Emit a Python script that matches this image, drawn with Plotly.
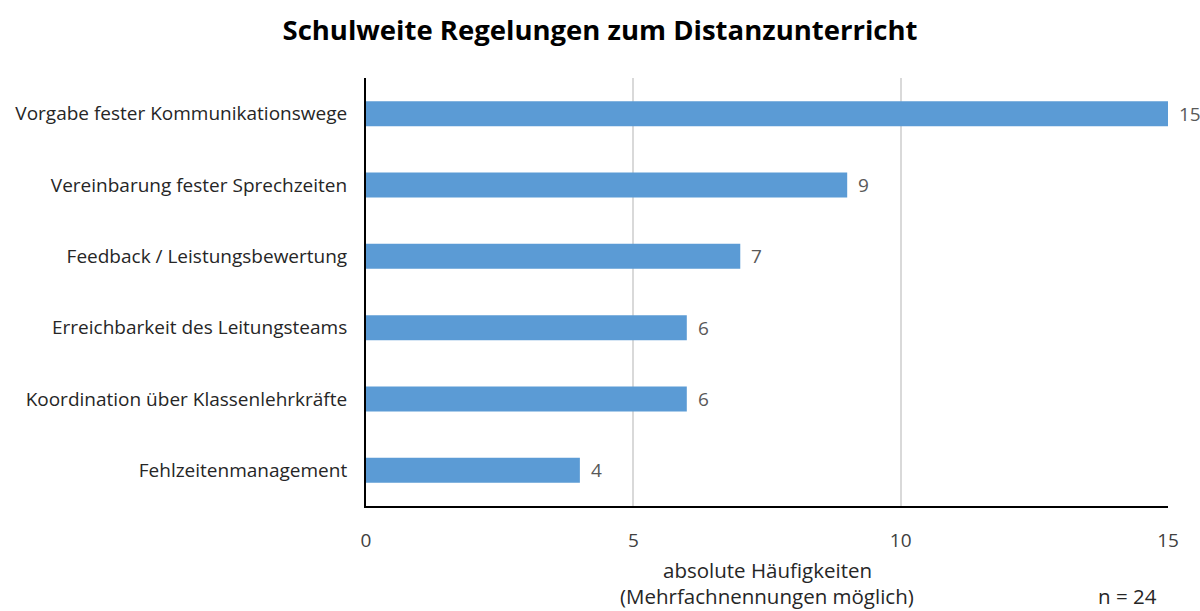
import plotly.graph_objects as go

categories = [
    "Vorgabe fester Kommunikationswege",
    "Vereinbarung fester Sprechzeiten",
    "Feedback / Leistungsbewertung",
    "Erreichbarkeit des Leitungsteams",
    "Koordination über Klassenlehrkräfte",
    "Fehlzeitenmanagement",
]
counts = [15, 9, 7, 6, 6, 4]
x_ticks = [0, 5, 10, 15]

FONT = "Open Sans"
BAR_COLOR = "#5b9bd5"

fig = go.Figure(
    go.Bar(
        x=counts,
        y=categories,
        orientation="h",
        marker=dict(color=BAR_COLOR, line=dict(width=0)),
        width=0.35,
        hoverinfo="x+y",
    )
)

# value labels right of each bar
for cat, val in zip(categories, counts):
    fig.add_annotation(
        x=val, y=cat, text=str(val), showarrow=False,
        xanchor="left", xshift=9,
        font=dict(family=FONT, size=19, color="#595959"),
    )

# axis title (two lines) and sample size
fig.add_annotation(
    x=0.5, y=-0.15, xref="paper", yref="paper", showarrow=False,
    text="absolute Häufigkeiten", yanchor="middle",
    font=dict(family=FONT, size=20.5, color="#262626"),
)
fig.add_annotation(
    x=0.5, y=-0.211, xref="paper", yref="paper", showarrow=False,
    text="(Mehrfachnennungen möglich)", yanchor="middle",
    font=dict(family=FONT, size=20.5, color="#262626"),
)
fig.add_annotation(
    x=0.949, y=-0.211, xref="paper", yref="paper", showarrow=False,
    text="n = 24", xanchor="center", yanchor="middle",
    font=dict(family=FONT, size=20.5, color="#262626"),
)

fig.update_layout(
    width=1200,
    height=611,
    margin=dict(l=366, r=32, t=78, b=105),
    paper_bgcolor="white",
    plot_bgcolor="white",
    showlegend=False,
    title=dict(
        text="<b>Schulweite Regelungen zum Distanzunterricht</b>",
        x=0.5, xanchor="center", y=0.951, yanchor="middle",
        font=dict(family=FONT, size=27.5, color="#000000"),
    ),
    xaxis=dict(
        range=[0, 15],
        tickvals=x_ticks,
        showgrid=True,
        gridcolor="#d9d9d9",
        gridwidth=1.5,
        zeroline=False,
        showline=True,
        linecolor="#000000",
        linewidth=2,
        ticks="",
        ticklabelstandoff=16,
        tickfont=dict(family=FONT, size=19, color="#404040"),
    ),
    yaxis=dict(
        autorange="reversed",
        showline=True,
        linecolor="#000000",
        linewidth=2,
        showgrid=False,
        ticks="",
        ticklabelstandoff=13,
        tickfont=dict(family=FONT, size=19, color="#262626"),
    ),
)

# drop the default body margin so the figure fills the window exactly
fig.write_html(
    "out.html",
    config={"displayModeBar": False},
    post_script="document.body.style.margin = '0';",
)
